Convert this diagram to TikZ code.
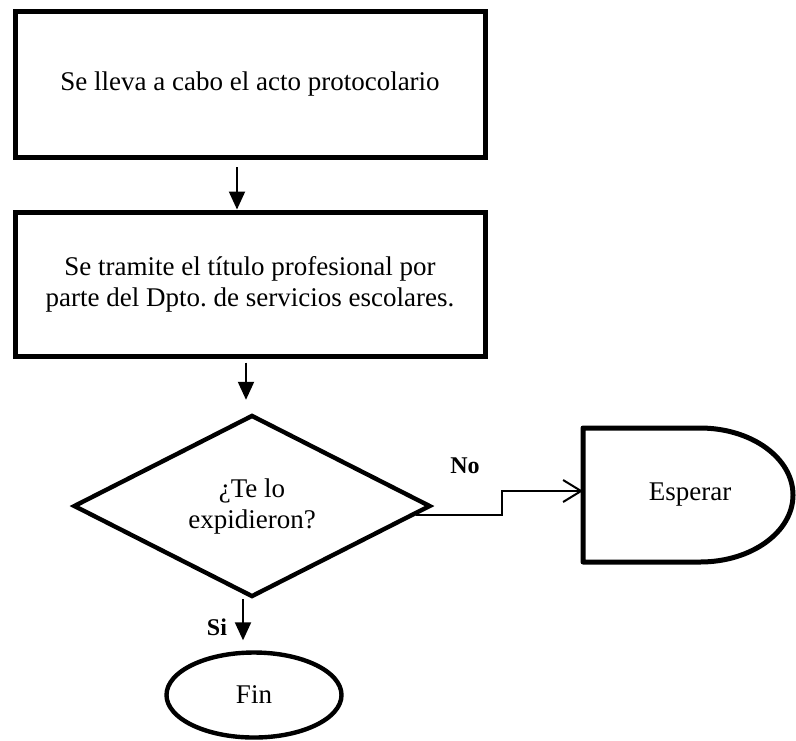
\documentclass[tikz,border=0pt]{standalone}
\usepackage{fontspec}
\setmainfont{Liberation Serif}
\usetikzlibrary{positioning,shapes.geometric,arrows.meta}

\begin{document}
\begin{tikzpicture}[x=0.5pt, y=-0.5pt,
    >={Triangle[length=9pt,width=8pt]},
    font=\fontsize{13.5}{15.5}\selectfont,
    process/.style={rectangle, draw, line width=2.5pt, minimum width=235pt, align=center},
    decision/.style={diamond, draw, line width=2.2pt, aspect=1.96, minimum width=178.5pt,
      minimum height=91pt, inner sep=0pt, align=center},
    delay/.style={minimum width=107pt, minimum height=67pt, outer sep=0pt},
    terminal/.style={ellipse, draw, line width=2.2pt, minimum width=87.5pt, minimum height=42.5pt},
    flow/.style={->, line width=1pt},
    lbl/.style={font=\fontsize{12}{14}\selectfont\bfseries},
  ]
  \useasboundingbox (0,0) rectangle (796,740);

  % the two process boxes
  \node[process, minimum height=73pt] (acto) at (250,84) {Se lleva a cabo el acto protocolario};
  \node[process, minimum height=72pt] (titulo) at (250,284)
    {Se tramite el título profesional por\\parte del Dpto.\ de servicios escolares.};

  % decision and its two ends
  \node[decision] (expide) at (252,506) {¿Te lo\\expidieron?};
  \node[delay] (esperar) at (690,495) {Esperar};
  \draw[line width=2.5pt, line join=round] (esperar.south west) -- (esperar.north west)
    -- ++(117,0) arc[start angle=-90, end angle=90, x radius=93, y radius=67] -- cycle;
  \node[terminal] (fin) at (254,695) {Fin};

  % connectors
  \draw[flow, shorten <=3.75pt] ([xshift=-6.5pt]acto.south) -- ([xshift=-6.5pt]acto.south |- titulo.north);
  \draw[flow, shorten <=2pt, shorten >=6.5pt] ([xshift=-2pt]titulo.south) -- ([xshift=-2pt]titulo.south |- expide.north);
  \draw[flow, shorten >=5pt] ([xshift=-4.5pt]expide.south) -- ([xshift=-4.5pt]expide.south |- fin.north);
  \coordinate (knee) at (502,491);
  \draw[line width=1pt, -{Straight Barb[length=9pt,width=11pt]}]
    (expide.-3.5) -| (knee) -- (knee -| esperar.west);

  \node[lbl] (no) at (465,466) {No};
  \node[lbl] (si) at (217,627) {Si};
\end{tikzpicture}
\end{document}
